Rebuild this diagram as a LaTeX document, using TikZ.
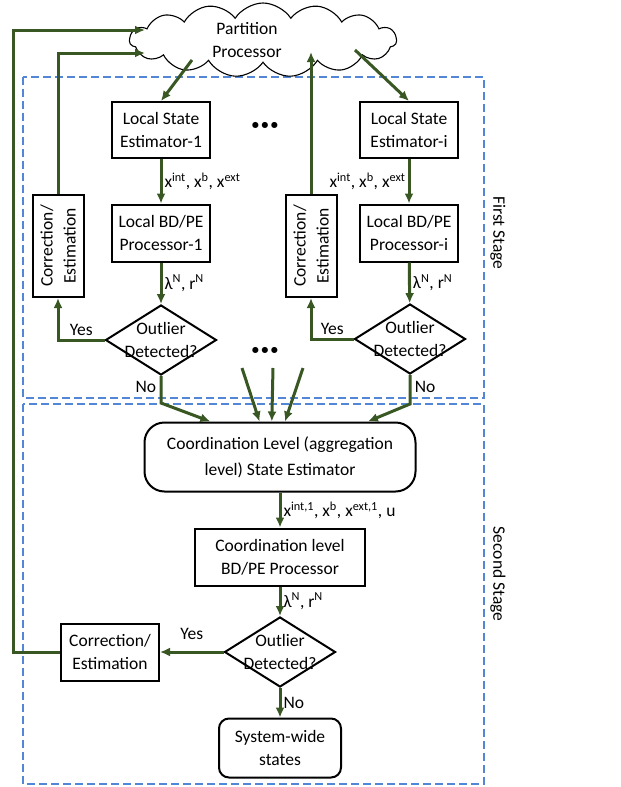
\documentclass[tikz,border=0pt]{standalone}
\usepackage{fontspec}
\setmainfont{Carlito}
\usetikzlibrary{arrows.meta, positioning, shapes.geometric, shapes.symbols}
\definecolor{flowgreen}{RGB}{56,87,35}
\definecolor{stageblue}{RGB}{84,134,214}
\tikzset{>={Latex[length=10pt,width=9pt]}}
\tikzset{
    blk/.style={draw, line width=2pt, align=center, inner sep=1pt},
    rblk/.style={blk, rounded corners=#1},
    dec/.style={draw, line width=2pt, diamond, inner sep=0pt, minimum width=111, minimum height=70},
    flow/.style={draw=flowgreen, line width=3pt, ->},
    stagebox/.style={draw=stageblue, line width=1.3pt, dash pattern=on 8pt off 4pt},
    lbl/.style={inner sep=2pt}
}

\begin{document}
\begin{tikzpicture}[x=1pt, y=-1pt, font=\fontsize{17.5}{23}\selectfont]
    \useasboundingbox (0,0) rectangle (621,787);
    % stages
    \draw[stagebox](23,77) rectangle (484,398);
    \draw[stagebox](23,404) rectangle (484,784);
    \node[rotate=-90] (firststage) at (498,233){First Stage};
    \node[rotate=-90] (secondstage) at (498,574){Second Stage};

    % partition processor
    \node[cloud, draw, line width=1.1pt, cloud puffs=15, cloud puff arc=115, aspect=3.4, minimum width=267, minimum height=74, inner sep=0pt,
        label={[align=center, xshift=-16pt]center:Partition\\Processor}] (part) at (263,40){};

    % first stage
    \node[blk, minimum width=98, minimum height=56] (lse1) at (161,130){Local State\\Estimator-1};
    \node[blk, minimum width=98, minimum height=56] (lsei) at (409,130){Local State\\Estimator-i};
    \node[blk, minimum width=98, minimum height=57] (bdpe1) at (161,233){Local BD/PE\\Processor-1};
    \node[blk, minimum width=98, minimum height=57] (bdpei) at (409,233){Local BD/PE\\Processor-i};
    \node[blk, minimum width=51, minimum height=102, label={[rotate=90, align=center]center:Correction/\\Estimation}] (corr1) at (58,246){};
    \node[blk, minimum width=51, minimum height=102, label={[rotate=90, align=center]center:Correction/\\Estimation}] (corri) at (311,246){};
    \node[dec, label={[align=center]center:Outlier\\Detected?}] (dec1) at (161,340){};
    \node[dec, label={[align=center]center:Outlier\\Detected?}] (deci) at (410,339){};
    \node (dotsA) at (265,126){\textbf{\Large •\,•\,•}};
    \node (dotsB) at (265,351){\textbf{\Large •\,•\,•}};

    % second stage
    \node[rblk=20pt, minimum width=271, minimum height=69] (coord) at (280,457){Coordination Level (aggregation\\[3pt]level) State Estimator};
    \node[blk, minimum width=170, minimum height=57] (bdpec) at (280,557){Coordination level\\BD/PE Processor};
    \node[dec, label={[align=center]center:Outlier\\Detected?}] (decc) at (280,652){};
    \node[blk, minimum width=98, minimum height=57] (corrc) at (110,652){Correction/\\Estimation};
    \node[rblk=10pt, minimum width=122, minimum height=59] (sys) at (280,748){System-wide\\states};

    % ends on the cloud
    \coordinate (inA) at (145,30);
    \coordinate (inB) at (145,53);
    \coordinate (inC) at (311,52);
    \coordinate (outA) at (192,60);
    \coordinate (outB) at (355,50);
    \coordinate (fanA) at (242,368);
    \coordinate (fanB) at (273,368);
    \coordinate (fanC) at (303,368);

    \draw[flow](outA)--(lse1.north);
    \draw[flow](outB)--(lsei.north);
    \draw[flow](lse1)--node[lbl, right]{x\textsuperscript{int}, x\textsuperscript{b}, x\textsuperscript{ext}}(bdpe1);
    \draw[flow](lsei)--node[lbl, left]{x\textsuperscript{int}, x\textsuperscript{b}, x\textsuperscript{ext}}(bdpei);
    \draw[flow](bdpe1)--node[lbl, right]{λ\textsuperscript{N}, r\textsuperscript{N}}(dec1);
    \draw[flow](bdpei)--node[lbl, right]{λ\textsuperscript{N}, r\textsuperscript{N}}(deci);
    \draw[flow](dec1.west)-|node[pos=.25, above]{Yes}(corr1.south);
    \draw[flow](deci.west)-|node[pos=.25, above]{Yes}(corri.south);
    \draw[flow](corr1.north)|-(inB);
    \draw[flow](corri.north)--(inC);
    \draw[flow](dec1.south)--node[left, pos=.4]{No}++(0,27)--(coord.153);
    \draw[flow](deci.south)--node[right, pos=.4]{No}++(0,29)--(coord.22);
    \draw[flow](fanA)--(coord.120);
    \draw[flow](fanB)--(coord.103);
    \draw[flow](fanC)--(coord.82);

    \draw[flow](coord)--node[lbl, right]{x\textsuperscript{int,1}, x\textsuperscript{b}, x\textsuperscript{ext,1}, u}(bdpec);
    \draw[flow](bdpec)--node[lbl, right]{λ\textsuperscript{N}, r\textsuperscript{N}}(decc);
    \draw[flow](decc.west)--node[above, yshift=8pt]{Yes}(corrc.east);
    \draw[flow](decc)--node[lbl, right]{No}(sys);
    \draw[flow](corrc.west)--++(-47,0)|-(inA);
\end{tikzpicture}
\end{document}
